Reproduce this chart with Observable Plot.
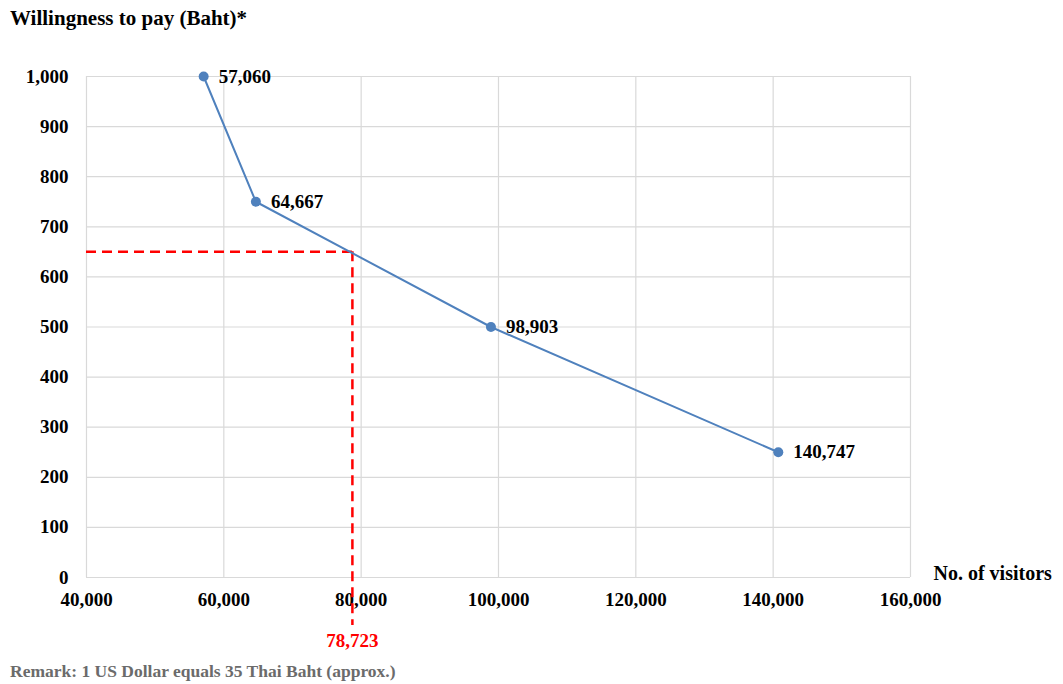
<!DOCTYPE html>
<html>
<head>
<meta charset="utf-8">
<script src="https://cdn.jsdelivr.net/npm/d3@7"></script>
<script src="https://cdn.jsdelivr.net/npm/@observablehq/plot@0.6"></script>
<style>
  html, body { margin: 0; padding: 0; background: #fff; }
  #wrap { width: 1063px; height: 684px; position: relative; overflow: hidden; }
  .title { height: 40px; box-sizing: border-box; padding: 8px 0 0 10px; font: bold 21px "Liberation Serif", serif; line-height: 1; color: #000; }
  .remark { padding: 3px 0 0 10px; font: bold 17.5px "Liberation Serif", serif; line-height: 1; color: #6b6b6b; }
  svg { display: block; }
</style>
</head>
<body>
<div id="wrap">
  <div class="title">Willingness to pay (Baht)*</div>
  <div id="chart"></div>
  <div class="remark">Remark: 1 US Dollar equals 35 Thai Baht (approx.)</div>
</div>
<script>
// Data
const visitors = [57060, 64667, 98903, 140747];
const wtp = [1000, 750, 500, 250];
const xTicks = [40000, 60000, 80000, 100000, 120000, 140000, 160000];
const yTicks = [0, 100, 200, 300, 400, 500, 600, 700, 800, 900, 1000];
const refVisitors = 78723;
const refWtp = 650;
const xTitle = "No. of visitors";

const points = visitors.map((v, i) => ({x: v, y: wtp[i], label: d3.format(",")(v)}));
const blue = "#4f81bd";
const red = "#ff0000";

const chart = Plot.plot({
  width: 1063,
  height: 620,
  marginTop: 36,
  marginBottom: 83,
  marginLeft: 86,
  marginRight: 153,
  style: {fontFamily: "'Liberation Serif', serif", fontSize: "19px", fontWeight: "bold", color: "#000", background: "#fff"},
  x: {domain: [40000, 160000], ticks: xTicks, tickFormat: d3.format(","), tickSize: 0, tickPadding: 15, label: null},
  y: {domain: [0, 1000], ticks: yTicks, tickFormat: d3.format(","), tickSize: 0, tickPadding: 18, label: null},
  marks: [
    Plot.ruleX(xTicks, {x: d => d, stroke: "#d9d9d9", strokeWidth: 1.2}),
    Plot.ruleY(yTicks, {y: d => d, stroke: "#d9d9d9", strokeWidth: 1.2}),
    Plot.axisX({ticks: xTicks, tickFormat: d3.format(","), tickSize: 0, tickPadding: 15, label: null, fill: "#000"}),
    Plot.axisY({ticks: yTicks, tickFormat: d3.format(","), tickSize: 0, tickPadding: 18, label: null, fill: "#000"}),
    Plot.ruleY([refWtp], {x1: 40000, x2: refVisitors, y: d => d, stroke: red, strokeWidth: 2.5, strokeDasharray: "10,6"}),
    Plot.ruleX([refVisitors], {x: d => d, y1: refWtp, y2: 0, insetBottom: -48, stroke: red, strokeWidth: 2.5, strokeDasharray: "10,6"}),
    Plot.line(points, {x: "x", y: "y", stroke: blue, strokeWidth: 2}),
    Plot.dot(points, {x: "x", y: "y", r: 5, fill: blue, stroke: null}),
    Plot.text(points, {x: "x", y: "y", text: "label", textAnchor: "start", dx: 15, fontSize: 19, fontWeight: "bold", fill: "#000"}),
    Plot.text([refVisitors], {x: d => d, y: [0], text: d => d3.format(",")(d), dy: 63, fontSize: 19, fontWeight: "bold", fill: red}),
    Plot.text([xTitle], {x: [160000], y: [0], text: d => d, textAnchor: "start", dx: 23, dy: -4, fontSize: 20, fontWeight: "bold", fill: "#000"})
  ]
});
document.getElementById("chart").appendChild(chart);
</script>
</body>
</html>
